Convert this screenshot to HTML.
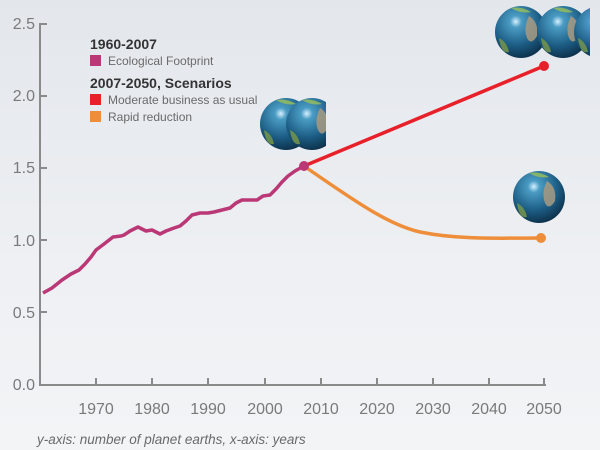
<!DOCTYPE html>
<html><head><meta charset="utf-8"><style>
body{margin:0;width:600px;height:450px;overflow:hidden;background:linear-gradient(180deg,#e3e7ec 0%,#eef0f3 60%,#f3f4f6 100%);font-family:"Liberation Sans",sans-serif}
</style></head><body>
<svg width="600" height="450" xmlns="http://www.w3.org/2000/svg" style="position:absolute;left:0;top:0">
<defs>
<radialGradient id="g" cx="0.4" cy="0.3" r="0.75">
<stop offset="0" stop-color="#d8f0ff"/><stop offset="0.15" stop-color="#4a9cc4"/><stop offset="0.6" stop-color="#1d5e86"/><stop offset="1" stop-color="#0b2c44"/></radialGradient>
<clipPath id="c1"><rect x="0" y="0" width="326" height="450"/></clipPath>
<clipPath id="c2"><rect x="0" y="0" width="590" height="450"/></clipPath>
<g id="e"><circle r="26" fill="url(#g)"/><path d="M8,-16 q10,6 8,20 q-6,10 -10,2 q-4,-10 2,-22z" fill="#a89a80" opacity="0.85"/><path d="M-22,6 q8,4 10,14 q-8,2 -10,-14z" fill="#7a9a4a" opacity="0.8"/><path d="M-10,-24 q10,-2 20,4 q-10,2 -20,-4z" fill="#9bbf5a" opacity="0.8"/></g>
</defs>
<g fill="#7a7a7a" font-size="16" text-anchor="end">
<text x="35" y="390">0.0</text><text x="35" y="318">0.5</text><text x="35" y="246">1.0</text><text x="35" y="173">1.5</text><text x="35" y="101">2.0</text><text x="35" y="29">2.5</text>
</g>
<g stroke="#8a8a8a" stroke-width="2" fill="none">
<path d="M40,23 V385 H546"/>
<path d="M40,24H47M40,96H47M40,168H47M40,240H47M40,312H47"/>
<path d="M96,385v-7M152,385v-7M208,385v-7M265,385v-7M321,385v-7M377,385v-7M433,385v-7M489,385v-7M544,385v-7"/>
</g>
<g fill="#7a7a7a" font-size="16" text-anchor="middle">
<text x="96" y="414">1970</text><text x="152" y="414">1980</text><text x="208" y="414">1990</text><text x="265" y="414">2000</text><text x="321" y="414">2010</text><text x="377" y="414">2020</text><text x="433" y="414">2030</text><text x="489" y="414">2040</text><text x="544" y="414">2050</text>
</g>
<text x="37" y="444" fill="#6a6a6a" font-size="13.5" font-style="italic">y-axis: number of planet earths, x-axis: years</text>
<text x="90" y="49" fill="#333" font-size="14" font-weight="bold">1960-2007</text>
<rect x="90" y="55" width="11" height="11" fill="#bb3877"/><text x="108" y="65" fill="#6a6a6a" font-size="12">Ecological Footprint</text>
<text x="90" y="88" fill="#333" font-size="14" font-weight="bold">2007-2050, Scenarios</text>
<rect x="90" y="94" width="11" height="11" fill="#e8202a"/><text x="108" y="104" fill="#6a6a6a" font-size="12">Moderate business as usual</text>
<rect x="90" y="111" width="11" height="11" fill="#ef8e3a"/><text x="108" y="121" fill="#6a6a6a" font-size="12">Rapid reduction</text>
<path d="M304,166 L544,66" stroke="#e8202a" stroke-width="3.5" fill="none"/>
<path d="M304,166 C360,205 390,225 420,232 C460,240 500,238 541,238" stroke="#ef8e3a" stroke-width="3.5" fill="none"/>
<path d="M43,293 L52,288 L62,280 L71,274 L79,270 L85,264 L91,257 L96,250 L104,244 L113,237 L121,236 L124,235 L130,231 L138,227 L146,231 L152,230 L160,234 L166,231 L174,228 L180,226 L186,221 L192,215 L200,213 L208,213 L214,212 L222,210 L230,208 L236,203 L242,200 L250,200 L257,200 L263,196 L270,195 L276,189 L282,182 L288,176 L295,171 L304,166" stroke="#bb3877" stroke-width="3.5" fill="none" stroke-linejoin="round"/>
<circle cx="304" cy="166" r="5" fill="#bb3877"/>
<circle cx="544" cy="66" r="5" fill="#e8202a"/>
<circle cx="541" cy="238" r="5" fill="#ef8e3a"/>
<use href="#e" x="286" y="124"/>
<g clip-path="url(#c1)"><use href="#e" x="312" y="124"/></g>
<use href="#e" x="521" y="32"/>
<use href="#e" x="563" y="32"/>
<g clip-path="url(#c2)"><use href="#e" x="600" y="32"/></g>
<use href="#e" x="539" y="197"/>
</svg>
</body></html>
